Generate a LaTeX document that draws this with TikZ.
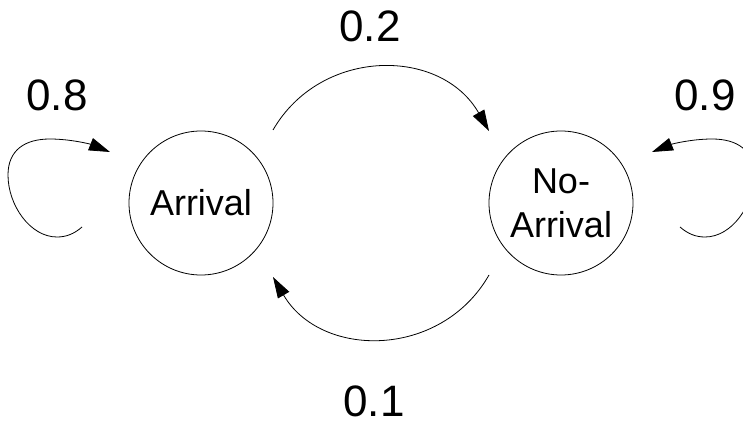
\documentclass[tikz,border=0pt]{standalone}
\usepackage{fontspec}
\setmainfont{Liberation Sans}
\usetikzlibrary{arrows.meta,calc}
\begin{document}
\begin{tikzpicture}[x=1pt,y=-1pt,
  state/.style={circle,draw,line width=0.8pt,minimum size=144pt,inner sep=0pt,align=center,font=\fontsize{36}{44}\selectfont},
  prob/.style={inner sep=0pt,font=\fontsize{44}{50}\selectfont},
  trans/.style={line width=0.8pt,-{Triangle[length=21pt,width=13pt]}}]
\clip (0,0) rectangle (743,430);
\node[state] (A) at (201,203) {Arrival};
\node[state] (N) at (561,203) {No-\\Arrival};
% arc end points
\coordinate (a1) at ($(A.center)+(72,-73)$);
\coordinate (n1) at ($(N.center)+(-72,-72)$);
\coordinate (n2) at ($(N.center)+(-72,72)$);
\coordinate (a2) at ($(A.center)+(72,74)$);
\draw[trans] (a1) .. controls (321,47) and (441,47) .. (n1);
\draw[trans] (n2) .. controls (441,359) and (321,359) .. (a2);
% self loops
\coordinate (al) at ($(A.center)+(-119,24)$);
\coordinate (at) at ($(A.center)+(-91,-51)$);
\draw[trans] (al) .. controls (74,234) and (66,237) .. (57,237)
  .. controls (30,237) and (8,205) .. (8,175)
  .. controls (8,150) and (25,139) .. (50,139)
  .. controls (70,139) and (90,144) .. (at);
\coordinate (nl) at ($(N.center)+(119,24)$);
\coordinate (nt) at ($(N.center)+(91,-51)$);
\draw[trans] (nl) .. controls (688,234) and (696,237) .. (705,237)
  .. controls (732,237) and (754,205) .. (754,175)
  .. controls (754,150) and (737,139) .. (712,139)
  .. controls (692,139) and (672,144) .. (nt);
% labels
\node[prob] (p8) at (57,95) {0.8};
\node[prob] (p9) at (705,95) {0.9};
\node[prob] (p2) at (370,26) {0.2};
\node[prob] (p1) at (374,401) {0.1};
\end{tikzpicture}
\end{document}
